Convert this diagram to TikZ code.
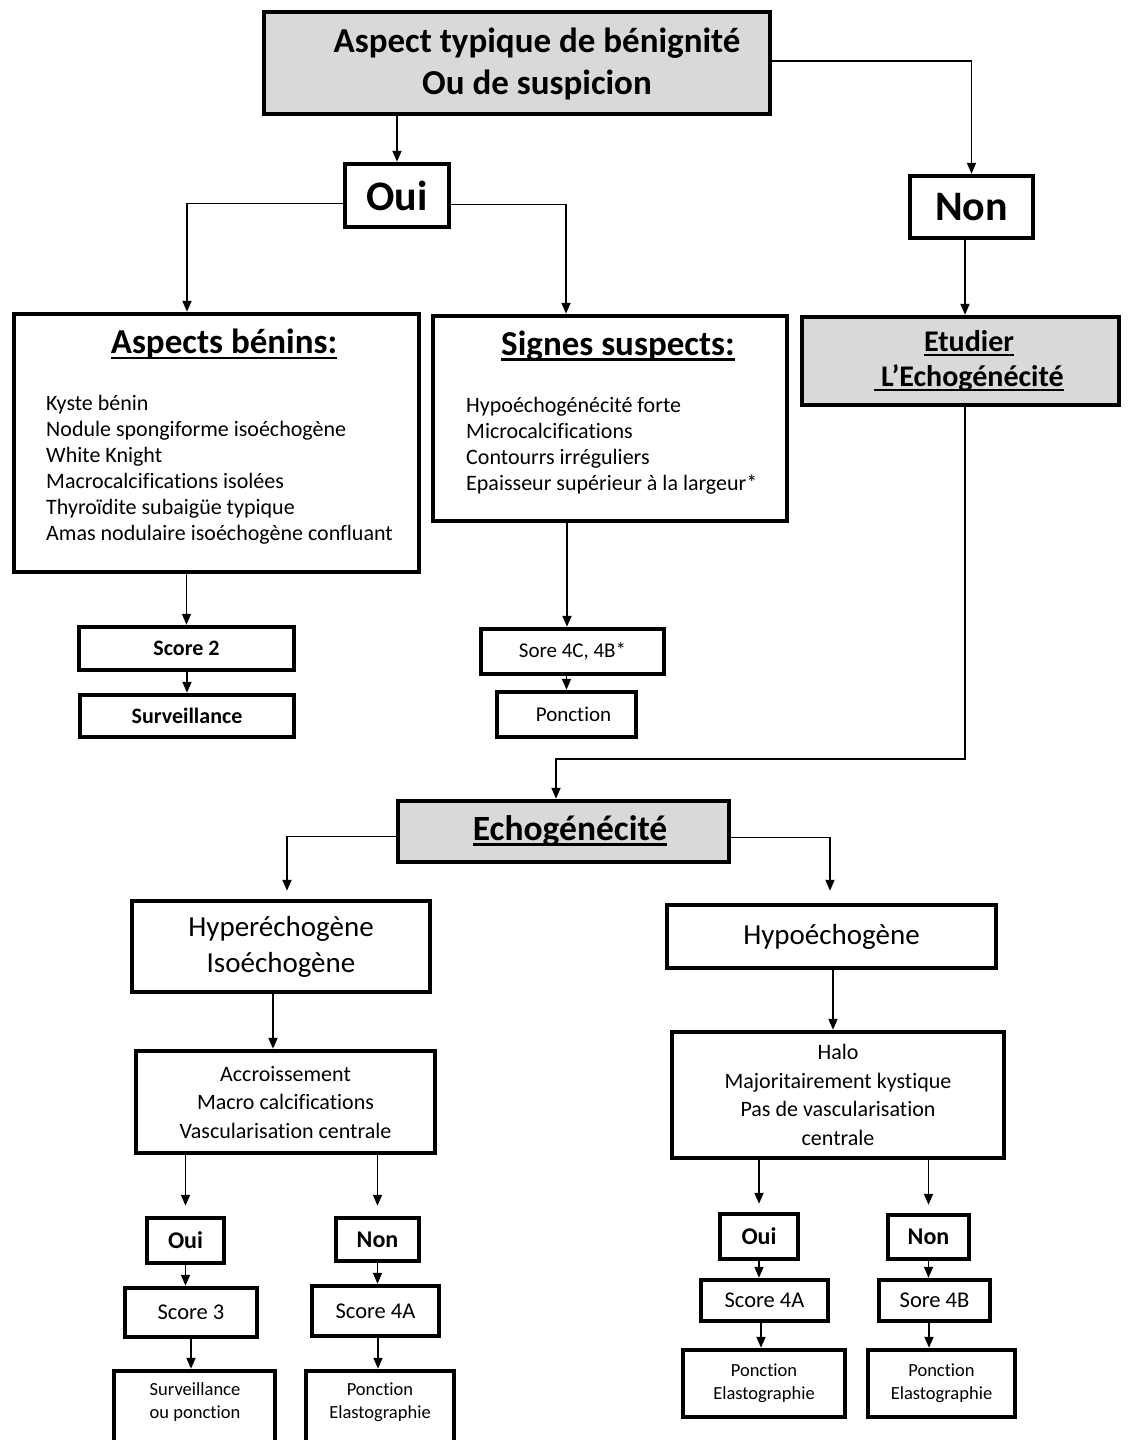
\documentclass[tikz,border=0pt]{standalone}
\usepackage{fontspec}
\setmainfont{Carlito}[Ligatures=NoCommon]
\usetikzlibrary{arrows.meta}
\newcommand\fs[2]{\fontsize{#1}{#2}\selectfont}
\newcommand\undl[1]{\setbox0=\hbox{#1}\rlap{\rule[-0.15em]{\wd0}{0.065em}}\box0}
\newcommand\bx[7]{\node[box,#6,minimum width={#4-#2},minimum height={#5-#3}] (#1) at ({(#2+#4)/2},{(#3+#5)/2}) {#7};}
\definecolor{boxgray}{HTML}{D9D9D9}
\begin{document}
\begin{tikzpicture}[x=1pt,y=-1pt,
  box/.style={draw, line width=4.5pt, inner sep=0pt, align=center, fill=white},
  graybox/.style={fill=boxgray},
  txt/.style={inner sep=0pt, align=center},
  ltxt/.style={inner sep=0pt, align=left, anchor=west},
  arr/.style={line width=1.8pt, -{Triangle[length=11pt,width=9pt]}}]
\path[use as bounding box, fill=white] (0,0) rectangle (1128,1440);

% top level
\bx{top}{264}{12}{770}{114}{graybox}{}
\node[txt, font=\fs{35}{42}\bfseries] (toptxt) at (537,64) {Aspect typique de bénignité\\Ou de suspicion};
\bx{oui}{345}{164}{449}{227}{font=\fs{42}{42}\bfseries}{Oui}
\bx{non}{910}{176}{1033}{238}{font=\fs{42}{42}\bfseries}{Non}

% second level
\bx{asp}{14}{314}{419}{572}{}{}
\node[txt, font=\fs{35}{40}\bfseries] (asptitle) at (224,344) {\undl{Aspects bénins:}};
\node[ltxt, font=\fs{22}{26}] (asplist) at (46,470) {Kyste bénin\\Nodule spongiforme isoéchogène\\White Knight\\Macrocalcifications isolées\\Thyroïdite subaigüe typique\\Amas nodulaire isoéchogène confluant};

\bx{sig}{433}{316}{787}{521}{}{}
\node[txt, font=\fs{35}{40}\bfseries] (sigtitle) at (618,346) {\undl{Signes suspects:}};
\node[ltxt, font=\fs{22}{26}] (siglist) at (466,446) {Hypoéchogénécité forte\\Microcalcifications\\Contourrs irréguliers\\Epaisseur supérieur à la largeur*};

\bx{etu}{802}{317}{1119}{405}{graybox}{}
\node[txt, font=\fs{30}{35}\bfseries] (etutxt) at (969,361) {\undl{Etudier}\\\undl{\ L’Echogénécité}};

\bx{sc2}{79}{627}{294}{670}{font=\fs{22}{26}\bfseries}{Score 2}
\bx{surv}{80}{695}{294}{737}{font=\fs{22}{26}\bfseries}{Surveillance}
\bx{sc4c}{481}{629}{664}{674}{font=\fs{21}{26}}{Sore 4C, 4B*}
\bx{ponc}{497}{692}{636}{737}{font=\fs{21}{26}}{\hspace*{14pt}Ponction}

% echogenicity
\bx{echo}{398}{801}{729}{862}{graybox}{}
\node[txt, font=\fs{35.5}{40}\bfseries] (echotxt) at (570,831) {\undl{Echogénécité}};
\bx{hyper}{132}{901}{430}{992}{font=\fs{29}{36}}{Hyperéchogène\\Isoéchogène}
\bx{hypo}{667}{905}{996}{968}{font=\fs{29}{36}}{Hypoéchogène}
\bx{accr}{136}{1051}{435}{1153}{font=\fs{22}{28.5}}{Accroissement\\Macro calcifications\\Vascularisation centrale}
\bx{halo}{672}{1032}{1004}{1158}{font=\fs{22}{28.4}}{Halo\\Majoritairement kystique\\Pas de vascularisation\\centrale}

% bottom left
\bx{ouiL}{147}{1218}{224}{1263}{font=\fs{24}{28}\bfseries}{Oui}
\bx{nonL}{336}{1218}{419}{1261}{font=\fs{24}{28}\bfseries}{Non}
\bx{sc3}{125}{1288}{257}{1337}{font=\fs{22.5}{28}}{Score 3}
\bx{sc4aL}{312}{1286}{439}{1336}{font=\fs{22.5}{28}}{Score 4A}
\bx{survB}{114}{1371}{275}{1452}{}{}
\node[txt, font=\fs{18.5}{23}] (survBtxt) at (195,1402) {Surveillance\\ou ponction};
\bx{ponL}{306}{1371}{454}{1452}{}{}
\node[txt, font=\fs{18.5}{23}] (ponLtxt) at (380,1402) {Ponction\\Elastographie};

% bottom right
\bx{ouiR}{720}{1214}{798}{1259}{font=\fs{24}{28}\bfseries}{Oui}
\bx{nonR}{888}{1215}{969}{1259}{font=\fs{24}{28}\bfseries}{Non}
\bx{sc4aR}{701}{1280}{828}{1321}{font=\fs{22.5}{28}}{Score 4A}
\bx{sc4b}{879}{1280}{990}{1321}{font=\fs{22.5}{28}}{Sore 4B}
\bx{ponR1}{683}{1350}{845}{1417}{font=\fs{18.5}{23}}{Ponction\\Elastographie}
\bx{ponR2}{868}{1350}{1015}{1417}{font=\fs{18.5}{23}}{Ponction\\Elastographie}

% connectors
\draw[arr] (oui.north |- top.south) -- (oui.north);
\draw[arr] ([yshift=2pt]top.east) -| (non.north);
\draw[arr] ([yshift=-8pt]oui.west) -| ([xshift=-29.5pt]asp.north);
\draw[arr] ([yshift=-9pt]oui.east) -| ([xshift=-44pt]sig.north);
\draw[arr] ([xshift=-6.5pt]non.south) -- ([xshift=4.5pt]etu.north);
\draw[arr] (sc2.north |- asp.south) -- (sc2.north);
\draw[arr] (surv.north |- sc2.south) -- (surv.north);
\draw[arr] ([xshift=-5.5pt]sig.south -| sc4c.north) -- ([xshift=-5.5pt]sc4c.north);
\draw[arr] (ponc.north |- sc4c.south) -- (ponc.north);
\draw[arr] ([xshift=4.5pt]etu.south) -- ++(0,352) -| ([xshift=-7.5pt]echo.north);
\draw[arr] ([yshift=-5pt]echo.west) -| ([xshift=6pt,yshift=8pt]hyper.north);
\draw[arr] ([yshift=-6pt]echo.east) -| ([xshift=-1.5pt,yshift=12pt]hypo.north);
\draw[arr] ([xshift=-8pt]hyper.south) -- ([xshift=-12.5pt]accr.north);
\draw[arr] ([xshift=1.5pt]hypo.south) -- ([xshift=-5pt]halo.north);
\draw[arr] (ouiL.north |- accr.south) -- ([yshift=10pt]ouiL.north);
\draw[arr] (nonL.north |- accr.south) -- ([yshift=10pt]nonL.north);
\draw[arr] (ouiL.south) -- (ouiL.south |- sc3.north);
\draw[arr] (sc3.south) -- (sc3.south |- survB.north);
\draw[arr] (nonL.south) -- (nonL.south |- sc4aL.north);
\draw[arr] ([xshift=2.5pt]sc4aL.south) -- ([xshift=2.5pt]sc4aL.south |- ponL.north);
\draw[arr] (ouiR.north |- halo.south) -- ([yshift=8pt]ouiR.north);
\draw[arr] (nonR.north |- halo.south) -- ([yshift=8pt]nonR.north);
\draw[arr] (ouiR.south) -- (ouiR.south |- sc4aR.north);
\draw[arr] ([xshift=-3.5pt]sc4aR.south) -- ([xshift=-3.5pt]sc4aR.south |- ponR1.north);
\draw[arr] (nonR.south) -- (nonR.south |- sc4b.north);
\draw[arr] ([xshift=-5.5pt]sc4b.south) -- ([xshift=-5.5pt]sc4b.south |- ponR2.north);
\end{tikzpicture}
\end{document}
